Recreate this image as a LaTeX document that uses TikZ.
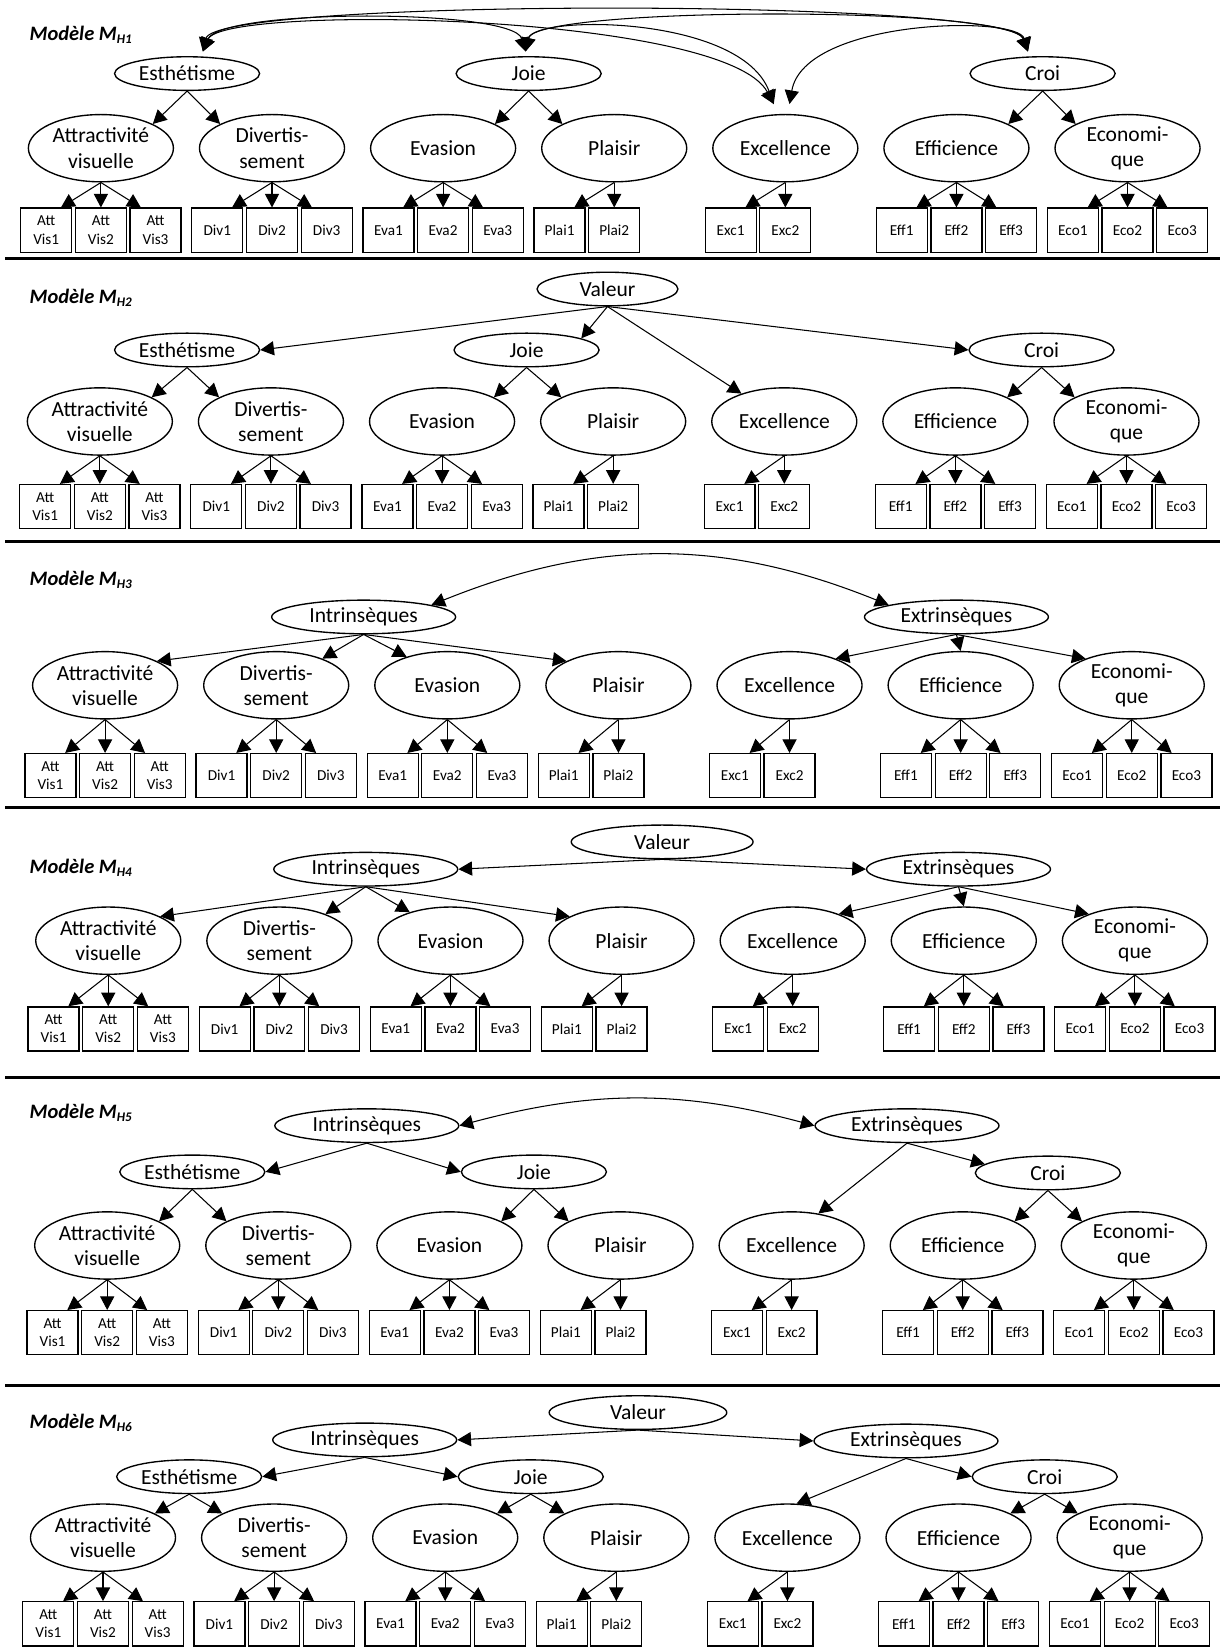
\documentclass[tikz,border=0pt]{standalone}
\usepackage{fontspec}
\setmainfont{Carlito}
\usetikzlibrary{shapes.geometric,arrows.meta,calc}
\tikzset{
  lat/.style={ellipse,draw,line width=1.3pt,minimum width=138pt,minimum height=64pt,inner sep=0pt,align=center,font=\fontsize{20.5}{24}\selectfont},
  lats/.style={ellipse,draw,line width=1.3pt,minimum width=138pt,minimum height=32pt,inner sep=0pt,font=\fontsize{20.5}{24}\selectfont},
  latw/.style={lats,minimum width=175pt},
  ind/.style={rectangle,draw,line width=1.2pt,minimum width=48.5pt,minimum height=42pt,inner sep=0pt,align=center,font=\fontsize{14.5}{17.5}\selectfont},
  arr/.style={-{Triangle[length=13pt,width=13.5pt]},line width=1pt},
  cov/.style={{Triangle[length=13pt,width=13.5pt]}-{Triangle[length=13pt,width=13.5pt]},line width=1pt},
  sepline/.style={line width=2.6pt},
  ttl/.style={anchor=west,inner sep=0pt,font=\fontsize{19.5}{22}\selectfont\bfseries\itshape},
}
\newcommand{\indthree}[5]{%
  \node[ind] (#2i1) at ({#3-52},{-#4}) {#51};
  \node[ind] (#2i2) at ({#3},{-#4}) {#52};
  \node[ind] (#2i3) at ({#3+52},{-#4}) {#53};
  \draw[arr] (#1.south) -- ([xshift=14pt]#2i1.north);
  \draw[arr] (#1.south) -- (#2i2.north);
  \draw[arr] (#1.south) -- ([xshift=-14pt]#2i3.north);
}
\newcommand{\indtwo}[5]{%
  \node[ind] (#2i1) at ({#3-52},{-#4}) {#51};
  \node[ind] (#2i2) at ({#3},{-#4}) {#52};
  \draw[arr] (#1.south) -- ([xshift=14pt]#2i1.north);
  \draw[arr] (#1.south) -- (#2i2.north);
}
\newcommand{\lowlayer}[4]{%
  \node[lat] (#1att) at ({#2},{-#3}) {Attractivité\\visuelle};
  \node[lat] (#1div) at ({#2+162.8},{-#3}) {Divertis-\\sement};
  \node[lat] (#1eva) at ({#2+325.6},{-#3}) {Evasion};
  \node[lat] (#1pla) at ({#2+488.4},{-#3}) {Plaisir};
  \node[lat] (#1exc) at ({#2+651.2},{-#3}) {Excellence};
  \node[lat] (#1eff) at ({#2+814},{-#3}) {Efficience};
  \node[lat] (#1eco) at ({#2+976.8},{-#3}) {Economi-\\que};
  \indthree{#1att}{#1boxav}{#2}{#4}{Att\\Vis}%
  \indthree{#1div}{#1boxdv}{#2+162.8}{#4}{Div}%
  \indthree{#1eva}{#1boxev}{#2+325.6}{#4}{Eva}%
  \indtwo{#1pla}{#1boxpl}{#2+488.4}{#4}{Plai}%
  \indtwo{#1exc}{#1boxex}{#2+651.2}{#4}{Exc}%
  \indthree{#1eff}{#1boxef}{#2+814}{#4}{Eff}%
  \indthree{#1eco}{#1boxec}{#2+976.8}{#4}{Eco}%
}
\newcommand{\mtitle}[1]{Modèle M\raisebox{-3pt}{\fontsize{12.5}{12.5}\selectfont H#1}}
\begin{document}
\begin{tikzpicture}[x=1pt,y=1pt]
\useasboundingbox (0,0) rectangle (1161,-1568);
% ---------------- M_H1
\node[ttl] (h1t) at (28,-33) {\mtitle{1}};
\lowlayer{h1}{96}{141}{219}
\node[lats] (h1esth) at (178,-70) {Esthétisme};
\node[lats] (h1joie) at (503,-70) {Joie};
\node[lats] (h1croi) at (992,-70) {Croi};
\draw[arr] (h1esth.south) -- (h1att.25);
\draw[arr] (h1esth.south) -- (h1div.155);
\draw[arr] (h1joie.south) -- (h1eva.25);
\draw[arr] (h1joie.south) -- (h1pla.155);
\draw[arr] (h1croi.south) -- (h1eff.25);
\draw[arr] (h1croi.south) -- (h1eco.155);
\coordinate (h1tE) at ($(h1esth)+(15,21)$);
\coordinate (h1tJ) at ($(h1joie)+(-3,21)$);
\coordinate (h1tC) at ($(h1croi)+(-14,21)$);
\coordinate (h1tXa) at ($(h1exc)+(-11,42)$);
\coordinate (h1tXb) at ($(h1exc)+(4,42)$);
\draw[cov] (h1tE) .. controls (210,-8) and (488,-8) .. (h1tJ);
\draw[cov] (h1tE) .. controls (205,2) and (960,2) .. (h1tC);
\draw[cov] (h1tE) .. controls (212,-4) and (690,-12) .. (h1tXa);
\draw[cov] (h1tJ) .. controls (508,-14) and (705,-14) .. (h1tXa);
\draw[cov] (h1tJ) .. controls (509,-6) and (962,-5) .. (h1tC);
\draw[cov] (h1tC) .. controls (968,-14) and (765,-18) .. (h1tXb);
\draw[sepline] (5,-246) -- (1161,-246);
% ---------------- M_H2
\node[ttl] (h2t) at (28,-283) {\mtitle{2}};
\lowlayer{h2}{95}{401}{482}
\node[lats,minimum width=134pt] (h2val) at (578,-275) {Valeur};
\node[lats] (h2esth) at (178,-333) {Esthétisme};
\node[lats] (h2joie) at (501,-333) {Joie};
\node[lats] (h2croi) at (991,-333) {Croi};
\draw[arr] (h2val.south) -- (h2esth.east);
\draw[arr] (h2val.south) -- (h2joie.12);
\draw[arr] (h2val.south) -- (h2exc);
\draw[arr] (h2val.south) -- (h2croi.west);
\draw[arr] (h2esth.south) -- (h2att.25);
\draw[arr] (h2esth.south) -- (h2div.155);
\draw[arr] (h2joie.south) -- (h2eva.25);
\draw[arr] (h2joie.south) -- (h2pla.155);
\draw[arr] (h2croi.south) -- (h2eff.25);
\draw[arr] (h2croi.south) -- (h2eco.155);
\draw[sepline] (5,-515) -- (1161,-515);
% ---------------- M_H3
\node[ttl] (h3t) at (28,-552) {\mtitle{3}};
\lowlayer{h3}{100}{652}{738}
\node[latw] (h3int) at (346,-587) {Intrinsèques};
\node[latw] (h3ext) at (910,-587) {Extrinsèques};
\draw[cov] (h3int.10) to[out=22,in=158] (h3ext.170);
\draw[arr] (h3int.south) -- (h3att.25);
\draw[arr] (h3int.south) -- (h3div.30);
\draw[arr] (h3int.south) -- (h3eva.145);
\draw[arr] (h3int.south) -- (h3pla.155);
\draw[arr] (h3ext.south) -- (h3exc.30);
\draw[arr] (h3ext.south) -- (h3eff.north);
\draw[arr] (h3ext.south) -- (h3eco.150);
\draw[sepline] (5,-768) -- (1161,-768);
% ---------------- M_H4
\node[ttl] (h4t) at (28,-826) {\mtitle{4}};
\lowlayer{h4}{103}{895}{979}
\node[latw,minimum width=173pt] (h4val) at (630,-801) {Valeur};
\node[latw] (h4int) at (348,-827) {Intrinsèques};
\node[latw] (h4ext) at (912,-827) {Extrinsèques};
\draw[arr] (h4val.south) -- (h4int.east);
\draw[arr] (h4val.south) -- (h4ext.west);
\draw[arr] (h4int.south) -- (h4att.25);
\draw[arr] (h4int.south) -- (h4div.30);
\draw[arr] (h4int.south) -- (h4eva.145);
\draw[arr] (h4int.south) -- (h4pla.155);
\draw[arr] (h4ext.south) -- (h4exc.30);
\draw[arr] (h4ext.south) -- (h4eff.north);
\draw[arr] (h4ext.south) -- (h4eco.150);
\draw[sepline] (5,-1025) -- (1161,-1025);
% ---------------- M_H5
\node[ttl] (h5t) at (28,-1059) {\mtitle{5}};
\lowlayer{h5}{102}{1185}{1268}
\node[latw] (h5int) at (349,-1071) {Intrinsèques};
\node[latw] (h5ext) at (863,-1071) {Extrinsèques};
\node[lats] (h5esth) at (183,-1115) {Esthétisme};
\node[lats] (h5joie) at (508,-1115) {Joie};
\node[lats] (h5croi) at (997,-1116) {Croi};
\draw[cov] (h5int.east) to[out=15,in=165] (h5ext.west);
\draw[arr] (h5int.south) -- (h5esth.east);
\draw[arr] (h5int.south) -- (h5joie.west);
\draw[arr] (h5ext.south) -- (h5exc.50);
\draw[arr] (h5ext.south) -- (h5croi.172);
\draw[arr] (h5esth.south) -- (h5att.25);
\draw[arr] (h5esth.south) -- (h5div.155);
\draw[arr] (h5joie.south) -- (h5eva.25);
\draw[arr] (h5joie.south) -- (h5pla.155);
\draw[arr] (h5croi.south) -- (h5eff.25);
\draw[arr] (h5croi.south) -- (h5eco.155);
\draw[sepline] (5,-1318) -- (1161,-1318);
% ---------------- M_H6
\node[ttl] (h6t) at (28,-1354) {\mtitle{6}};
\lowlayer{h6}{98}{1463}{1545}
\node[latw,minimum width=169pt] (h6val) at (607,-1344) {Valeur};
\node[latw] (h6int) at (347,-1370) {Intrinsèques};
\node[latw] (h6ext) at (862,-1371) {Extrinsèques};
\node[lats] (h6esth) at (180,-1405) {Esthétisme};
\node[lats] (h6joie) at (505,-1405) {Joie};
\node[lats] (h6croi) at (994,-1405) {Croi};
\draw[arr] (h6val.south) -- (h6int.east);
\draw[arr] (h6val.south) -- (h6ext.west);
\draw[arr] (h6int.south) -- (h6esth.east);
\draw[arr] (h6int.south) -- (h6joie.west);
\draw[arr] (h6ext.south) -- (h6exc.75);
\draw[arr] (h6ext.south) -- (h6croi.west);
\draw[arr] (h6esth.south) -- (h6att.25);
\draw[arr] (h6esth.south) -- (h6div.155);
\draw[arr] (h6joie.south) -- (h6eva.25);
\draw[arr] (h6joie.south) -- (h6pla.155);
\draw[arr] (h6croi.south) -- (h6eff.25);
\draw[arr] (h6croi.south) -- (h6eco.155);
\end{tikzpicture}
\end{document}
